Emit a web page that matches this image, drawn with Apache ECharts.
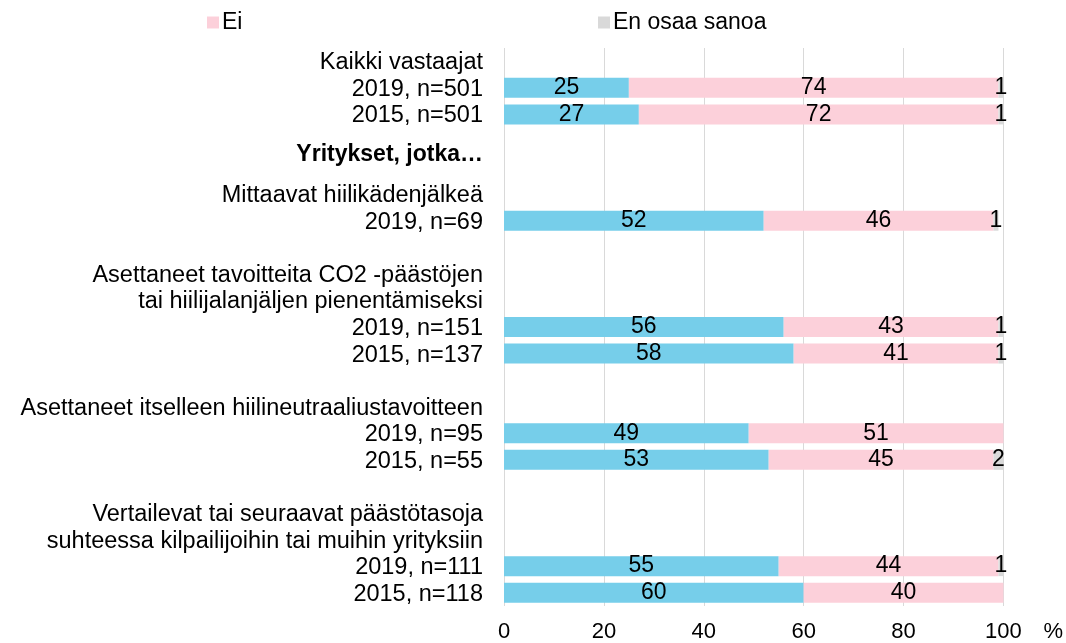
<!DOCTYPE html>
<html lang="fi">
<head>
  <meta charset="utf-8">
  <title>Hiilijalanjälki</title>
  <script src="https://cdn.jsdelivr.net/npm/echarts@6/dist/echarts.min.js"></script>
  <style>
    html, body { margin: 0; padding: 0; background: #fff; }
    #chart { width: 1066px; height: 643px; }
  </style>
</head>
<body>
<div id="chart"></div>
<script>
  // rows of the chart, top to bottom (empty strings are spacer rows)
  const categories = [
    'Kaikki vastaajat', '2019, n=501', '2015, n=501',
    'Yritykset, jotka…', '',
    'Mittaavat hiilikädenjälkeä', '2019, n=69', '',
    'Asettaneet tavoitteita CO2 -päästöjen', 'tai hiilijalanjäljen pienentämiseksi',
    '2019, n=151', '2015, n=137', '',
    'Asettaneet itselleen hiilineutraaliustavoitteen', '2019, n=95', '2015, n=55', '',
    'Vertailevat tai seuraavat päästötasoja', 'suhteessa kilpailijoihin tai muihin yrityksiin',
    '2019, n=111', '2015, n=118'
  ];
  const kylla = [null, 25, 27, null, null, null, 52, null, null, null, 56, 58, null, null, 49, 53, null, null, null, 55, 60];
  const ei = [null, 74, 72, null, null, null, 46, null, null, null, 43, 41, null, null, 51, 45, null, null, null, 44, 40];
  const eos = [null, 1, 1, null, null, null, 1, null, null, null, 1, 1, null, null, null, 2, null, null, null, 1, null];
  const xTicks = [0, 20, 40, 60, 80, 100];

  const font = 'Liberation Sans, Arial, sans-serif';
  const chart = echarts.init(document.getElementById('chart'));

  function barLabel() {
    return {
      show: true,
      position: 'inside',
      color: '#000',
      fontFamily: font,
      fontSize: 23,
      formatter: p => (p.value == null ? '' : p.value)
    };
  }

  const legendBase = {
    icon: 'rect',
    itemWidth: 12,
    itemHeight: 12,
    itemGap: 0,
    top: 6,
    textStyle: { fontFamily: font, fontSize: 23, color: '#000', padding: [0, 0, 0, -2] },
    selectedMode: false
  };

  chart.setOption({
    animation: false,
    legend: [
      Object.assign({}, legendBase, { left: 202, data: ['Ei'] }),
      Object.assign({}, legendBase, { left: 593, data: ['En osaa sanoa'] })
    ],
    grid: { left: 504, right: 62, top: 48, bottom: 33.4, containLabel: false },
    xAxis: {
      type: 'value',
      min: 0,
      max: 100,
      interval: 20,
      axisLine: { show: false },
      axisTick: { show: false },
      splitLine: { show: true, lineStyle: { color: '#D9D9D9', width: 1 } },
      axisLabel: {
        color: '#000', fontFamily: font, fontSize: 22, margin: 15,
        formatter: v => (xTicks.includes(v) ? String(v) : '')
      },
      name: '%',
      nameLocation: 'end',
      nameGap: 40,
      nameTextStyle: {
        color: '#000', fontFamily: font, fontSize: 22, align: 'left',
        verticalAlign: 'top', lineHeight: 22, padding: [15, 0, 0, 0]
      }
    },
    yAxis: {
      type: 'category',
      inverse: true,
      data: categories,
      axisLine: { show: false },
      axisTick: { show: false },
      splitLine: { show: false },
      axisLabel: {
        color: '#000', fontFamily: font, fontSize: 23.5, margin: 21, interval: 0,
        padding: [3, 0, 0, 0],
        formatter: v => (v === 'Yritykset, jotka…' ? '{b|' + v + '}' : v),
        rich: {
          b: { fontWeight: 'bold', fontFamily: font, fontSize: 23, color: '#000', padding: [24, 0, 0, 0] }
        }
      }
    },
    series: [
      {
        name: 'Kyllä', type: 'bar', stack: 'all', barWidth: 20, data: kylla,
        itemStyle: { color: '#76CEEA' }, label: barLabel()
      },
      {
        name: 'Ei', type: 'bar', stack: 'all', barWidth: 20, data: ei,
        itemStyle: { color: '#FCD0DA' }, label: barLabel()
      },
      {
        name: 'En osaa sanoa', type: 'bar', stack: 'all', barWidth: 20, data: eos,
        itemStyle: { color: '#D9D9D9' }, label: barLabel()
      }
    ]
  });
</script>
</body>
</html>
